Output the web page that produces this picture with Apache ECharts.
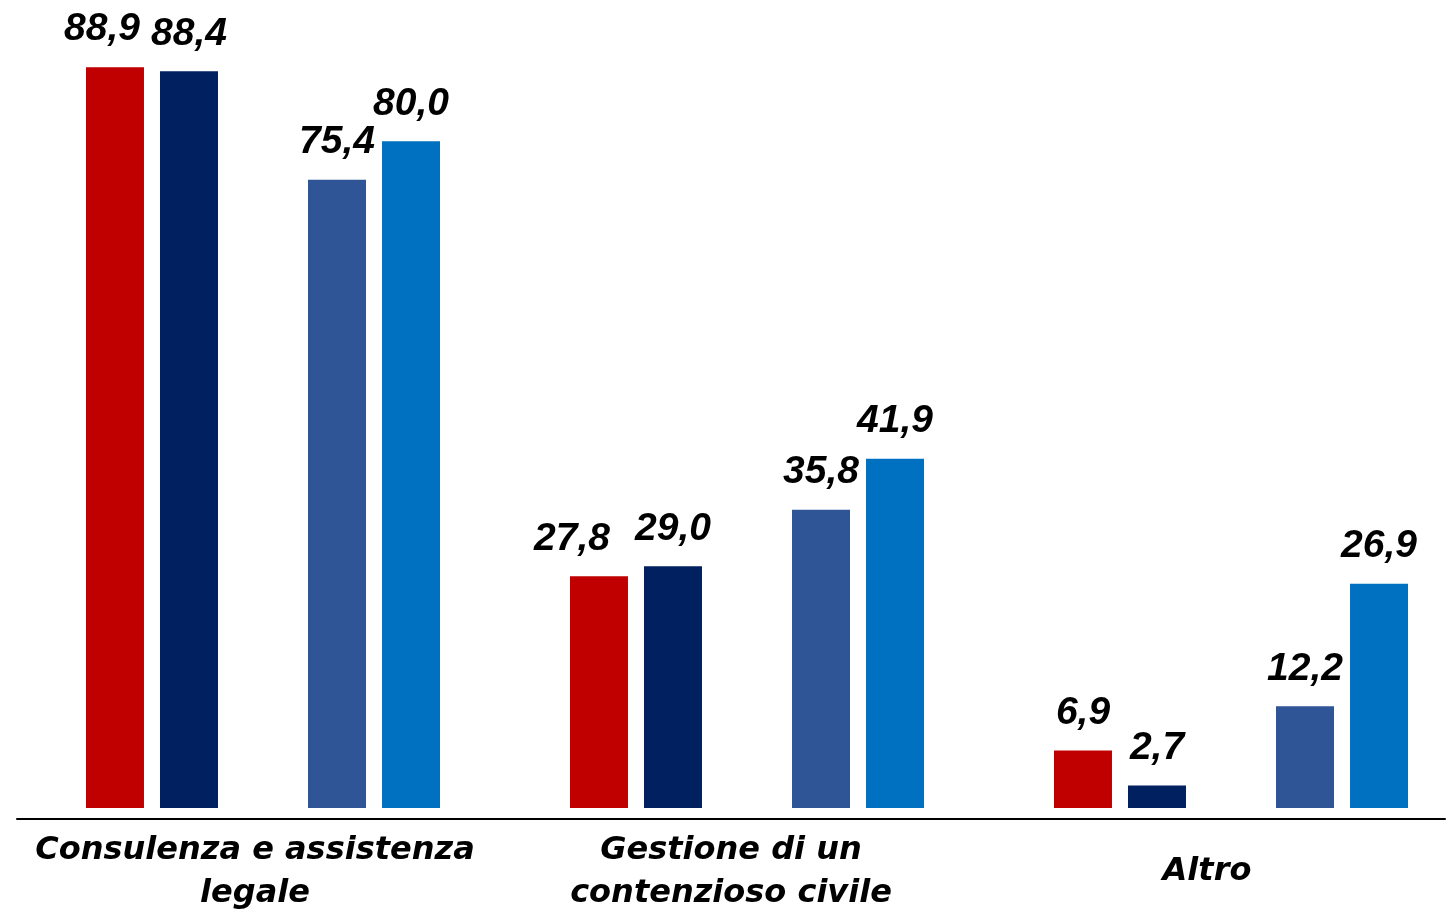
<!DOCTYPE html>
<html>
<head>
<meta charset="utf-8">
<script src="https://cdn.jsdelivr.net/npm/echarts@6/dist/echarts.min.js"></script>
<style>
html,body{margin:0;padding:0;background:#fff;}
#chart{width:1448px;height:914px;}
</style>
</head>
<body>
<div id="chart"></div>
<script>
const categories = ['Consulenza e assistenza\nlegale', 'Gestione di un\ncontenzioso civile', 'Altro'];
const seriesNames = ['Serie 1', 'Serie 2', '', 'Serie 3', 'Serie 4'];
const serie1 = [88.9, 27.8, 6.9];
const serie2 = [88.4, 29.0, 2.7];
const spacer = [null, null, null];
const serie3 = [75.4, 35.8, 12.2];
const serie4 = [80.0, 41.9, 26.9];
const colors = ['#C00000', '#002060', '#ffffff', '#2F5597', '#0070C0'];

// label horizontal nudges [seriesIndex, dataIndex, dx]
const labelNudges = [[0, 0, -13], [0, 1, -27]];

const allSeries = [serie1, serie2, spacer, serie3, serie4];

const chart = echarts.init(document.getElementById('chart'), null, {renderer: 'canvas'});

const series = allSeries.map((vals, si) => ({
  type: 'bar',
  name: seriesNames[si],
  xAxisIndex: 0,
  yAxisIndex: 0,
  barWidth: 58,
  barGap: '27.6%',
  itemStyle: {color: colors[si]},
  silent: true,
  data: vals.map((v, di) => {
    const n = labelNudges.find(x => x[0] === si && x[1] === di);
    const item = {value: v};
    if (n) item.label = {offset: [n[2], 0]};
    return item;
  }),
  label: {
    show: si !== 2,
    position: 'top',
    distance: 18,
    color: '#000',
    fontFamily: 'Liberation Sans',
    fontStyle: 'italic',
    fontWeight: 'bold',
    fontSize: 39,
    formatter: p => p.value == null ? '' : p.value.toFixed(1).replace('.', ',')
  }
}));

chart.setOption({
  animation: false,
  backgroundColor: '#ffffff',
  grid: [
    {left: 21, width: 1452, top: 8, bottom: 106, outerBoundsMode: 'none', containLabel: false},
    {left: 17, width: 1428, top: 8, bottom: 95, outerBoundsMode: 'none', containLabel: false}
  ],
  xAxis: [
    {type: 'category', gridIndex: 0, data: categories, show: false},
    {type: 'category', gridIndex: 1, data: categories,
      axisLine: {show: true, lineStyle: {color: '#000', width: 2}},
      axisTick: {show: false},
      axisLabel: {
        interval: 0,
        margin: 53,
        verticalAlign: 'middle',
        color: '#000',
        fontFamily: 'DejaVu Sans',
        fontStyle: 'italic',
        fontWeight: 'bold',
        fontSize: 32,
        lineHeight: 43
      }
    }
  ],
  yAxis: [
    {type: 'value', gridIndex: 0, min: 0, max: 96, show: false},
    {type: 'value', gridIndex: 1, min: 0, max: 96, show: false}
  ],
  series: series
});
</script>
</body>
</html>
